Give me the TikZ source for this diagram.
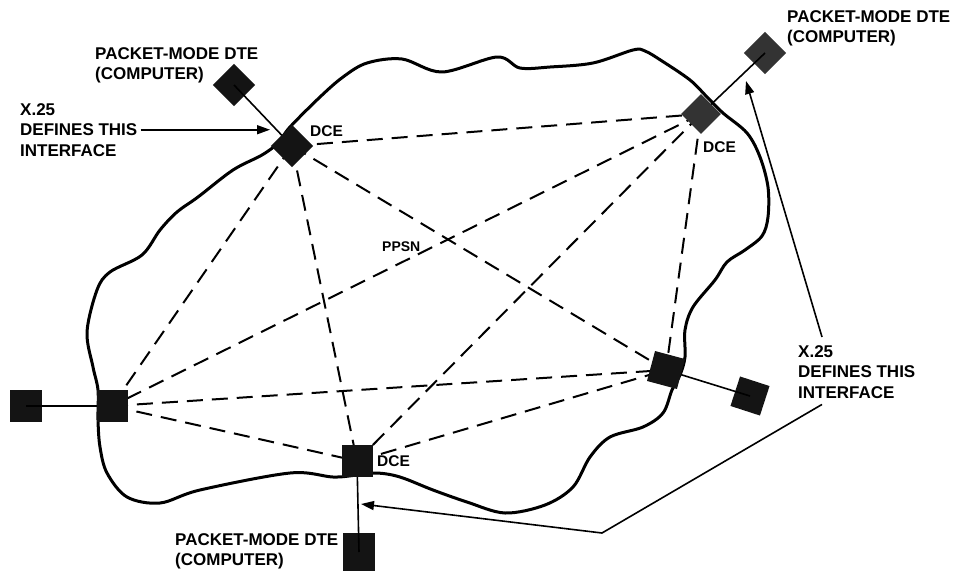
\documentclass[tikz,border=0pt]{standalone}
\usepackage{fontspec}
\usetikzlibrary{arrows.meta}
\newfontfamily\labfont{Liberation Sans Bold}
\begin{document}
\begin{tikzpicture}[x=1pt,y=-1pt,
  lab/.style={font={\labfont\fontsize{17}{20.5}\selectfont}, inner sep=0pt, align=left, anchor=north west},
  dev/.style={draw=none, fill=black!92, inner sep=0pt, minimum width=31pt, minimum height=31pt},
  devgray/.style={dev, fill=black!80},
  cloudline/.style={line width=3pt, line join=round, line cap=round},
  dashline/.style={line width=2pt, dash pattern=on 16pt off 9pt},
  conn/.style={line width=1.6pt},
  arr/.style={line width=1.6pt, -{Triangle[length=13pt, width=9pt]}}
]
\useasboundingbox (0,0) rectangle (954,571);

% cloud outline
\draw[cloudline] plot[smooth cycle, tension=0.55] coordinates {
 (290,127) (320,97) (343,77) (367,63) (402,59) (442,72) (497,57) (520,68) (550,67) (593,63)
 (633,50) (645,51) (662,61) (690,80) (707,97) (723,113) (747,133) (760,157) (768,187)
 (768,217) (762,236) (745,250) (727,262) (715,280) (693,307) (685,330) (685,357) (680,375)
 (672,390) (663,413) (643,427) (610,437) (590,457) (573,487) (545,505) (505,513) (467,502)
 (433,490) (400,477) (377,473) (357,475) (333,477) (290,473) (200,490) (160,503) (127,497)
 (107,473) (100,447) (98,420) (98,390) (93,367) (87,332) (97,290) (110,272) (142,255)
 (160,230) (177,212) (198,197) (233,170) (262,155) (278,143)};

% DCE positions
\coordinate (pA) at (292,146);
\coordinate (pB) at (701,114);
\coordinate (pC) at (112,406);
\coordinate (pD) at (357,461);
\coordinate (pE) at (666,370);

% dashed mesh
\foreach \u/\v in {pA/pB,pA/pC,pA/pD,pA/pE,pB/pC,pB/pD,pB/pE,pC/pD,pC/pE,pD/pE}
  \draw[dashline] (\u) -- (\v);

% DTE nodes
\node[dev, rotate=45, minimum width=30pt, minimum height=30pt] (dteA) at (234,85) {};
\node[devgray, rotate=45, minimum width=30pt, minimum height=30pt] (dteB) at (765,53) {};
\node[dev, minimum width=32pt, minimum height=32pt] (dteC) at (26,406) {};
\node[dev, minimum width=32pt, minimum height=38pt] (dteD) at (359,552) {};
\node[dev, rotate=-18, minimum width=31pt, minimum height=31pt] (dteE) at (750,396) {};

% access lines
\draw[conn] (pA) -- (dteA.center);
\draw[conn] (pB) -- (dteB.center);
\draw[conn] (pC) -- (dteC.center);
\draw[conn] (pD) -- (dteD.center);
\draw[conn] (pE) -- (dteE.center);

% DCE nodes
\node[dev, rotate=45, minimum width=30pt, minimum height=30pt] (dceA) at (pA) {};
\node[devgray, rotate=45, minimum width=28pt, minimum height=28pt] (dceB) at (pB) {};
\node[dev, minimum width=31pt, minimum height=32pt] (dceC) at (pC) {};
\node[dev, minimum width=31pt, minimum height=32pt] (dceD) at (pD) {};
\node[dev, rotate=-15, minimum width=31pt, minimum height=31pt] (dceE) at (pE) {};

% labels
\node[lab] (t1) at (95,47) {PACKET-MODE DTE\\(COMPUTER)};
\node[lab] (t2) at (20,103) {X.25\\DEFINES THIS\\INTERFACE};
\node[lab] (t3) at (787,10) {PACKET-MODE DTE\\(COMPUTER)};
\node[lab] (t4) at (798,345) {X.25\\DEFINES THIS\\INTERFACE};
\node[lab] (t5) at (175,533) {PACKET-MODE DTE\\(COMPUTER)};
\node[lab, font={\labfont\fontsize{15.5}{18}\selectfont}] (lA) at (310,125) {DCE};
\node[lab, font={\labfont\fontsize{15.5}{18}\selectfont}] (lB) at (703,141) {DCE};
\node[lab, font={\labfont\fontsize{15.5}{18}\selectfont}] (lD) at (377,455) {DCE};
\node[lab, font={\labfont\fontsize{14}{17}\selectfont}] (ppsn) at (382,242) {PPSN};

% interface arrows
\coordinate (tipA) at (270,127);
\coordinate (tipB) at (746,81);
\coordinate (bend) at (602,533);
\coordinate (tipD) at (361,504);
\draw[arr] ([xshift=3pt]t2.east) -- (tipA |- t2.east);
\draw[arr] ([shift={(24,-8)}]t4.north west) -- (tipB);
\draw[arr] ([shift={(24,6)}]t4.south west) -- (bend) -- (tipD);
\end{tikzpicture}
\end{document}
